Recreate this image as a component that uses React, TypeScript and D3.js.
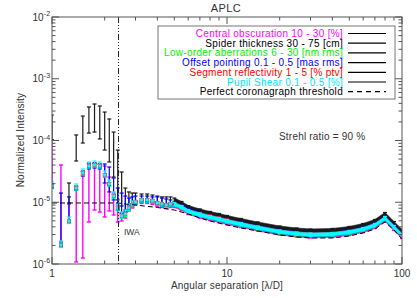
import React from 'react';
import * as d3 from 'd3';

// Angular separation grid [lambda/D]
const separation = [1, 1.125, 1.25, 1.375, 1.5, 1.625, 1.75, 1.875, 2, 2.125, 2.25, 2.375, 2.5, 2.625, 2.75, 2.875, 3, 3.25, 3.5, 3.75, 4, 4.25, 4.5, 4.75, 5, 5.5, 6, 7, 8, 9, 10, 12, 15, 20, 25, 30, 40, 50, 60, 70, 80, 90, 100];

// Nominal contrast (marker positions)
const nominal = [1.83e-5, 2.03e-6, 4.97e-6, 1.70e-5, 2.98e-5, 3.86e-5, 4.01e-5, 3.86e-5, 2.76e-5, 1.98e-5, 1.26e-5, 8.07e-6, 5.99e-6, 6.45e-6, 8.07e-6, 9.02e-6, 1.01e-5, 1.09e-5, 1.09e-5, 1.05e-5, 9.73e-6, 9.37e-6, 9.02e-6, 9.37e-6, 9.37e-6, 8.37e-6, 7.22e-6, 6.33e-6, 5.77e-6, 5.36e-6, 4.97e-6, 4.45e-6, 3.90e-6, 3.36e-6, 3.12e-6, 3.00e-6, 3.06e-6, 3.30e-6, 3.69e-6, 4.28e-6, 5.56e-6, 3.97e-6, 2.95e-6];

// Central obscuration 10 - 30 %
const obscHi = [1.02e-4, 4.01e-5, 9.37e-6, 1.70e-5, 3.09e-5, 4.32e-5, 4.32e-5, 4.16e-5, 3.86e-5, 2.56e-5, 1.41e-5, 9.02e-6, 6.70e-6, 6.95e-6, 8.37e-6, 9.37e-6, 1.05e-5, 1.13e-5, 1.13e-5, 1.09e-5, 1.01e-5, 9.73e-6, 9.37e-6, 9.73e-6, 9.73e-6, 8.69e-6, 7.49e-6, 6.57e-6, 5.99e-6, 5.56e-6, 5.16e-6, 4.61e-6, 4.05e-6, 3.49e-6, 3.24e-6, 3.12e-6, 3.18e-6, 3.42e-6, 3.83e-6, 4.45e-6, 5.77e-6, 4.12e-6, 3.06e-6];
const obscLo = [1.83e-5, 1.96e-6, 4.79e-6, 1.08e-6, 1.25e-6, 4.79e-6, 7.49e-6, 6.95e-6, 5.77e-6, 7.22e-6, 6.22e-6, 4.79e-6, 4.97e-6, 5.56e-6, 7.22e-6, 8.07e-6, 9.02e-6, 9.55e-6, 9.55e-6, 9.2e-6, 8.53e-6, 8.22e-6, 7.92e-6, 8.22e-6, 8.22e-6, 7.35e-6, 6.33e-6, 5.56e-6, 5.06e-6, 4.70e-6, 4.36e-6, 3.90e-6, 3.42e-6, 2.95e-6, 2.74e-6, 2.64e-6, 2.69e-6, 2.90e-6, 3.24e-6, 3.76e-6, 4.88e-6, 3.49e-6, 2.59e-6];

// Spider thickness 30 - 75 cm
const spiderHi = [2.59e-4, 2.11e-6, 2.05e-5, 1.23e-4, 2.49e-4, 3.49e-4, 3.90e-4, 3.62e-4, 2.89e-4, 2.23e-4, 1.37e-4, 7.0e-5, 3.09e-5, 1.70e-5, 1.47e-5, 1.41e-5, 1.41e-5, 1.36e-5, 1.36e-5, 1.31e-5, 1.26e-5, 1.22e-5, 1.22e-5, 1.22e-5, 1.17e-5, 1.03e-5, 8.85e-6, 7.78e-6, 7.08e-6, 6.57e-6, 6.10e-6, 5.46e-6, 4.79e-6, 4.12e-6, 3.83e-6, 3.69e-6, 3.76e-6, 4.05e-6, 4.53e-6, 5.26e-6, 6.82e-6, 4.88e-6, 3.62e-6];
const spiderLo = [1.02e-4, 1.89e-6, 9.73e-6, 4.66e-5, 9.1e-5, 1.32e-4, 1.37e-4, 1.06e-4, 7.0e-5, 4.49e-5, 2.56e-5, 1.09e-5, 8.69e-6, 7.49e-6, 8.69e-6, 9.37e-6, 1.01e-5, 1.05e-5, 1.05e-5, 1.01e-5, 9.37e-6, 9.02e-6, 9.02e-6, 9.02e-6, 9.02e-6, 8.07e-6, 7.22e-6, 6.22e-6, 5.56e-6, 5.16e-6, 4.79e-6, 4.28e-6, 3.69e-6, 3.18e-6, 2.95e-6, 2.84e-6, 2.90e-6, 3.12e-6, 3.49e-6, 4.05e-6, 5.26e-6, 3.76e-6, 2.74e-6];

// Low-order aberrations 6 - 30 nm rms
const lowOrderHi = [1.90e-5, 2.11e-6, 5.16e-6, 1.77e-5, 3.09e-5, 4.01e-5, 4.16e-5, 4.01e-5, 2.87e-5, 2.05e-5, 1.31e-5, 8.37e-6, 6.22e-6, 6.70e-6, 8.37e-6, 9.37e-6, 1.05e-5, 1.13e-5, 1.13e-5, 1.09e-5, 1.01e-5, 9.73e-6, 9.37e-6, 9.73e-6, 9.73e-6, 8.69e-6, 7.49e-6, 6.57e-6, 5.99e-6, 5.56e-6, 5.16e-6, 4.61e-6, 4.05e-6, 3.49e-6, 3.24e-6, 3.12e-6, 3.18e-6, 3.42e-6, 3.83e-6, 4.45e-6, 5.77e-6, 4.12e-6, 3.06e-6];
const lowOrderLo = [1.67e-5, 1.85e-6, 4.53e-6, 1.55e-5, 2.71e-5, 3.53e-5, 3.66e-5, 3.53e-5, 2.51e-5, 1.80e-5, 1.15e-5, 7.35e-6, 5.46e-6, 5.88e-6, 7.35e-6, 8.22e-6, 9.2e-6, 9.9e-6, 9.9e-6, 9.55e-6, 8.85e-6, 8.53e-6, 8.22e-6, 8.53e-6, 8.53e-6, 7.63e-6, 6.57e-6, 5.77e-6, 5.26e-6, 4.88e-6, 4.53e-6, 4.05e-6, 3.55e-6, 3.06e-6, 2.84e-6, 2.74e-6, 2.79e-6, 3.00e-6, 3.36e-6, 3.90e-6, 5.06e-6, 3.62e-6, 2.69e-6];

// Offset pointing 0.1 - 0.5 mas rms
const pointingHi = [1.98e-5, 1.41e-5, 1.22e-5, 1.83e-5, 3.21e-5, 4.16e-5, 4.32e-5, 4.16e-5, 4.16e-5, 3.72e-5, 2.47e-5, 1.70e-5, 1.41e-5, 1.26e-5, 1.17e-5, 1.22e-5, 1.26e-5, 1.26e-5, 1.26e-5, 1.22e-5, 1.22e-5, 1.17e-5, 1.13e-5, 1.09e-5, 1.01e-5, 9.02e-6, 8.07e-6, 6.95e-6, 6.22e-6, 5.77e-6, 5.36e-6, 4.79e-6, 4.20e-6, 3.62e-6, 3.36e-6, 3.24e-6, 3.30e-6, 3.55e-6, 3.97e-6, 4.61e-6, 5.99e-6, 4.28e-6, 3.18e-6];
const pointingLo = [1.70e-5, 2.27e-6, 4.79e-6, 1.58e-5, 2.66e-5, 3.46e-5, 3.59e-5, 3.46e-5, 2.05e-5, 1.47e-5, 1.09e-5, 7.49e-6, 6.70e-6, 6.95e-6, 7.78e-6, 8.37e-6, 9.37e-6, 1.01e-5, 1.01e-5, 9.73e-6, 9.02e-6, 8.69e-6, 8.69e-6, 8.69e-6, 8.69e-6, 7.78e-6, 6.95e-6, 5.99e-6, 5.36e-6, 4.97e-6, 4.61e-6, 4.12e-6, 3.62e-6, 3.12e-6, 2.90e-6, 2.79e-6, 2.84e-6, 3.06e-6, 3.42e-6, 3.97e-6, 5.16e-6, 3.69e-6, 2.74e-6];

// Segment reflectivity 1 - 5 % ptv
const segmentHi = [1.94e-5, 2.15e-6, 5.26e-6, 1.80e-5, 3.15e-5, 4.08e-5, 4.24e-5, 4.08e-5, 2.92e-5, 2.09e-5, 1.33e-5, 8.53e-6, 6.33e-6, 6.82e-6, 8.53e-6, 9.55e-6, 1.07e-5, 1.15e-5, 1.15e-5, 1.11e-5, 1.03e-5, 9.9e-6, 9.55e-6, 9.9e-6, 9.9e-6, 8.85e-6, 7.63e-6, 6.82e-6, 6.22e-6, 5.77e-6, 5.36e-6, 4.70e-6, 4.12e-6, 3.55e-6, 3.30e-6, 3.18e-6, 3.24e-6, 3.49e-6, 3.90e-6, 4.53e-6, 5.88e-6, 4.20e-6, 3.12e-6];
const segmentLo = [1.77e-5, 1.96e-6, 4.79e-6, 1.64e-5, 2.87e-5, 3.72e-5, 3.86e-5, 3.72e-5, 2.66e-5, 1.90e-5, 1.22e-5, 7.78e-6, 5.77e-6, 6.22e-6, 7.78e-6, 8.69e-6, 9.73e-6, 1.05e-5, 1.05e-5, 1.01e-5, 9.37e-6, 9.02e-6, 8.69e-6, 9.02e-6, 9.02e-6, 8.07e-6, 6.95e-6, 6.10e-6, 5.56e-6, 5.16e-6, 4.79e-6, 4.28e-6, 3.76e-6, 3.24e-6, 3.00e-6, 2.90e-6, 2.95e-6, 3.18e-6, 3.55e-6, 4.12e-6, 5.36e-6, 3.83e-6, 2.84e-6];

// Pupil shear 0.1 - 0.5 %
const shearHi = [2.13e-5, 2.36e-6, 5.77e-6, 1.98e-5, 3.46e-5, 4.49e-5, 4.66e-5, 4.49e-5, 3.21e-5, 2.29e-5, 1.47e-5, 9.37e-6, 6.95e-6, 7.49e-6, 9.37e-6, 1.05e-5, 1.07e-5, 1.15e-5, 1.15e-5, 1.11e-5, 1.03e-5, 9.9e-6, 9.55e-6, 9.9e-6, 9.9e-6, 8.85e-6, 7.63e-6, 6.70e-6, 6.10e-6, 5.67e-6, 5.26e-6, 4.70e-6, 4.12e-6, 3.55e-6, 3.30e-6, 3.18e-6, 3.24e-6, 3.49e-6, 3.90e-6, 4.53e-6, 5.88e-6, 4.20e-6, 3.12e-6];
const shearLo = [1.70e-5, 1.88e-6, 4.61e-6, 1.58e-5, 2.76e-5, 3.59e-5, 3.72e-5, 3.59e-5, 2.56e-5, 1.83e-5, 1.17e-5, 7.49e-6, 5.56e-6, 5.99e-6, 7.49e-6, 8.37e-6, 9.37e-6, 1.01e-5, 1.01e-5, 9.73e-6, 9.02e-6, 8.69e-6, 8.37e-6, 8.69e-6, 8.69e-6, 7.78e-6, 6.70e-6, 5.88e-6, 5.36e-6, 4.97e-6, 4.61e-6, 4.12e-6, 3.62e-6, 3.12e-6, 2.90e-6, 2.79e-6, 2.84e-6, 3.06e-6, 3.42e-6, 3.97e-6, 5.16e-6, 3.69e-6, 2.74e-6];

// Perfect coronagraph threshold
const thresholdSep = [1, 2, 2.4, 2.6, 3, 4, 5, 6, 7, 8, 10, 12, 15, 20, 25, 30, 40, 50, 60, 70, 80, 90, 100];
const thresholdVal = [9.73e-6, 9.73e-6, 9.73e-6, 9.37e-6, 9.02e-6, 8.22e-6, 7.49e-6, 6.45e-6, 5.56e-6, 4.97e-6, 4.28e-6, 3.83e-6, 3.42e-6, 2.95e-6, 2.74e-6, 2.64e-6, 2.64e-6, 2.84e-6, 3.18e-6, 3.69e-6, 4.79e-6, 3.55e-6, 2.54e-6];

const iwa = 2.4;
const strehlText = 'Strehl ratio = 90 %';
const legendLabels = [
  'Central obscuration 10 - 30 [%]',
  'Spider thickness 30 - 75 [cm]',
  'Low-order aberrations 6 - 30 [nm rms]',
  'Offset pointing 0.1 - 0.5 [mas rms]',
  'Segment reflectivity 1 - 5 [% ptv]',
  'Pupil Shear 0.1 - 0.5 [%]',
  'Perfect coronagraph threshold',
];
const seriesColors = ['#ff00ff', '#1a1a1a', '#00ee00', '#0000ff', '#ff0000', '#00ffff'];
const legendTextColors = ['#ff00ff', '#000000', '#00ee00', '#0000ff', '#ff0000', '#00e5ff', '#000000'];
const xTickValues = [1, 10, 100];
const xTickLabels = ['1', '10', '100'];
const yTickExponents = [-6, -5, -4, -3, -2];

const seriesHi = [obscHi, spiderHi, lowOrderHi, pointingHi, segmentHi, shearHi];
const seriesLo = [obscLo, spiderLo, lowOrderLo, pointingLo, segmentLo, shearLo];

const W = 417;
const H = 298;
const L = 52, R = 402, T = 17, B = 264;
const FONT = 'Liberation Sans, Arial, Helvetica, sans-serif';
const BAND_START = 24;

export default function App() {
  const x = d3.scaleLog().domain([1, 100]).range([L, R]);
  const y = d3.scaleLog().domain([1e-6, 1e-2]).range([B, T]);

  const xMinor: number[] = [];
  for (const dec of [1, 10]) for (let k = 2; k <= 9; k++) xMinor.push(dec * k);
  const yMinor: number[] = [];
  for (const e of [-6, -5, -4, -3]) for (let k = 2; k <= 9; k++) yMinor.push(k * Math.pow(10, e));

  const idx = d3.range(separation.length);
  const bandIdx = idx.filter((i) => i >= BAND_START);
  const thrLine = d3.line<number>().x((i) => x(thresholdSep[i])).y((i) => y(thresholdVal[i]));

  const legendRowY = [33.5, 43.2, 52.9, 62.6, 72.3, 82, 91.7];

  return (
    <svg width={W} height={H} style={{ position: 'absolute', left: 0, top: 0, background: '#fff' }} fontFamily={FONT}>
      <rect x={0} y={0} width={W} height={H} fill="#fff" />
      <defs>
        <clipPath id="plotClip">
          <rect x={L} y={T} width={R - L} height={B - T} />
        </clipPath>
      </defs>

      <text x={226} y={12} fontSize={11} textAnchor="middle" fill="#333" letterSpacing={0.4}>APLC</text>

      {/* data */}
      <g clipPath="url(#plotClip)">
        {seriesHi.map((hi, s) => {
          const lo = seriesLo[s];
          const col = seriesColors[s];
          const area = d3.area<number>().x((i) => x(separation[i])).y0((i) => y(lo[i])).y1((i) => y(hi[i]));
          return (
            <g key={s}>
              <path d={area(bandIdx) || ''} fill={col} stroke={col} strokeWidth={0.6} />
              {idx.map((i) => {
                const cx = x(separation[i]);
                const y1 = y(hi[i]);
                const y2 = y(lo[i]);
                return (
                  <g key={i} stroke={col} strokeWidth={s === 0 ? 1.4 : 1.2}>
                    <line x1={cx} x2={cx} y1={y1} y2={y2} />
                    <line x1={cx - 2} x2={cx + 2} y1={y1} y2={y1} />
                    <line x1={cx - 2} x2={cx + 2} y1={y2} y2={y2} />
                  </g>
                );
              })}
            </g>
          );
        })}
        {seriesColors.map((col, s) =>
          s === 1 ? null : (
            <g key={'m' + s}>
              {idx.filter((i) => i < BAND_START).map((i) => (
                <rect key={i} x={x(separation[i]) - 1.4} y={y(nominal[i]) - 1.4} width={2.8} height={2.8} fill={col} stroke={s === 5 ? '#8fc8c8' : col} strokeWidth={0.4} />
              ))}
            </g>
          )
        )}
        <path d={thrLine(d3.range(thresholdSep.length)) || ''} fill="none" stroke="#000" strokeWidth={1} strokeDasharray="5 3" />
        <line x1={x(iwa)} x2={x(iwa)} y1={T} y2={B} stroke="#222" strokeWidth={1} strokeDasharray="6 2 1 2 1 2 1 2" />
      </g>

      <text x={124} y={235} fontSize={8.5} fill="#333">IWA</text>
      <text x={279} y={140} fontSize={10} fill="#333" letterSpacing={0.2}>{strehlText}</text>

      {/* frame and ticks */}
      <rect x={L} y={T} width={R - L} height={B - T} fill="none" stroke="#555" strokeWidth={1} />
      {xTickValues.map((v) => (
        <g key={'xt' + v} stroke="#555">
          <line x1={x(v)} x2={x(v)} y1={B} y2={B - 7} />
          <line x1={x(v)} x2={x(v)} y1={T} y2={T + 7} />
        </g>
      ))}
      {xMinor.map((v) => (
        <g key={'xm' + v} stroke="#555">
          <line x1={x(v)} x2={x(v)} y1={B} y2={B - 3.5} />
          <line x1={x(v)} x2={x(v)} y1={T} y2={T + 3.5} />
        </g>
      ))}
      {yTickExponents.map((e) => {
        const yy = y(Math.pow(10, e));
        return (
          <g key={'yt' + e} stroke="#555">
            <line x1={L} x2={L + 7} y1={yy} y2={yy} />
            <line x1={R} x2={R - 7} y1={yy} y2={yy} />
          </g>
        );
      })}
      {yMinor.map((v, k) => (
        <g key={'ym' + k} stroke="#555">
          <line x1={L} x2={L + 3.5} y1={y(v)} y2={y(v)} />
          <line x1={R} x2={R - 3.5} y1={y(v)} y2={y(v)} />
        </g>
      ))}

      {/* tick labels */}
      {xTickValues.map((v, k) => (
        <text key={'xl' + v} x={x(v)} y={277} fontSize={10} textAnchor="middle" fill="#333">{xTickLabels[k]}</text>
      ))}
      {yTickExponents.map((e) => {
        const yy = y(Math.pow(10, e));
        return (
          <g key={'yl' + e} fill="#333">
            <text x={43.5} y={yy + 3.5} fontSize={10} textAnchor="end">10</text>
            <text x={43.8} y={yy - 1} fontSize={7}>{'-' + Math.abs(e)}</text>
          </g>
        );
      })}

      <text x={227} y={289} fontSize={10} textAnchor="middle" fill="#333" letterSpacing={0.2}>Angular separation [λ/D]</text>
      <text transform={`translate(24,140) rotate(-90)`} fontSize={10} textAnchor="middle" fill="#333" letterSpacing={0.2}>Normalized Intensity</text>

      {/* legend */}
      <rect x={158} y={26} width={237} height={73} fill="#fff" stroke="#777" strokeWidth={1} />
      {legendLabels.map((lab, k) => (
        <g key={'lg' + k}>
          <text x={343} y={legendRowY[k] + 3.5} fontSize={10} textAnchor="end" fill={legendTextColors[k]} letterSpacing={0.3}>{lab}</text>
          <line x1={348} x2={386} y1={legendRowY[k]} y2={legendRowY[k]} stroke="#000" strokeWidth={1.2} strokeDasharray={k === 6 ? '5 4' : undefined} />
        </g>
      ))}
    </svg>
  );
}
